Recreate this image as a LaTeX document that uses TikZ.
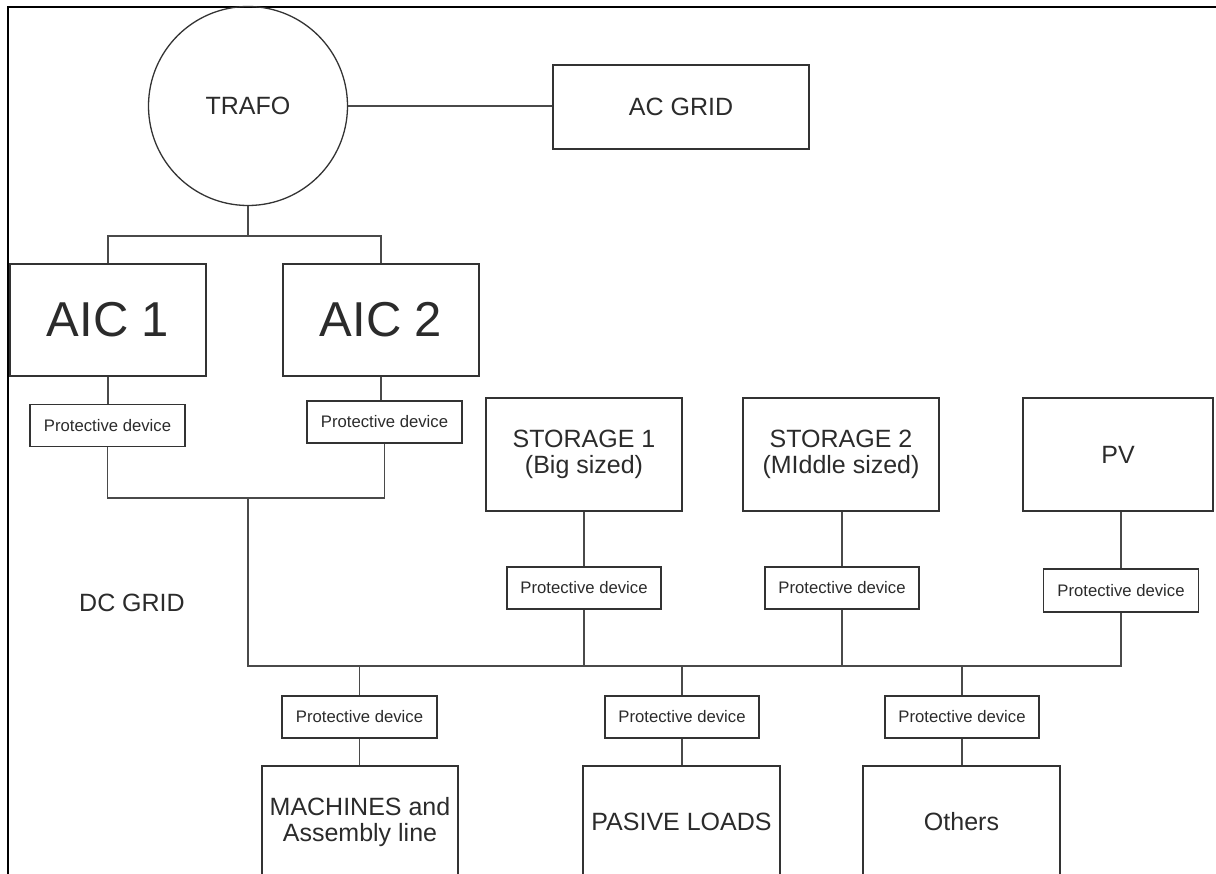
\documentclass[tikz,border=0pt]{standalone}
\usepackage{fontspec}
\setmainfont{Liberation Sans}
\usetikzlibrary{calc}
\definecolor{edge}{HTML}{333333}
\definecolor{wirec}{HTML}{4A4A4A}
\definecolor{ink}{HTML}{2B2B2B}
\begin{document}
\begin{tikzpicture}[x=1pt,y=-1pt,
  every node/.style={text=ink, inner sep=2pt},
  blk/.style={draw=edge, line width=1.3pt, align=center,
    minimum width=#1, font=\fontsize{25}{25.5}\selectfont},
  blk/.default=196pt,
  big/.style={font=\fontsize{49}{50}\selectfont},
  prot/.style={draw=edge, line width=1.3pt, minimum width=155pt,
    minimum height=42pt, font=\fontsize{16.7}{18}\selectfont},
  wire/.style={draw=wirec, line width=1.5pt}]
\useasboundingbox (0,0) rectangle (1216,874);
\clip (0,0) rectangle (1216,874);

% frame
\draw[black, line width=2pt] (8,880) -- (8,7) -- (1220,7);

% AC side
\node[draw=edge, line width=1.3pt, circle, minimum size=199pt,
      font=\fontsize{25}{24}\selectfont] (trafo) at (248,106) {TRAFO};
\node[blk=256pt, minimum height=84pt] (acgrid) at (681,107) {AC GRID};

% converters
\node[blk, big, minimum height=112pt] (aic1) at (108,320) {AIC 1};
\node[blk, big, minimum height=112pt] (aic2) at (381,320) {AIC 2};
\node[prot] (pd1) at (107.5,425.5) {Protective device};
\node[prot] (pd2) at (384.5,422) {Protective device};

% sources and storage
\node[blk, minimum height=113pt] (st1) at (584,454.5) {STORAGE 1\\(Big sized)};
\node[blk, minimum height=113pt] (st2) at (841,454.5) {STORAGE 2\\(MIddle sized)};
\node[blk=190pt, minimum height=113pt] (pv) at (1118,454.5) {PV};
\node[prot, minimum width=154pt] (pds1) at (584,588) {Protective device};
\node[prot, minimum width=154pt] (pds2) at (842,588) {Protective device};
\node[prot, minimum height=43pt] (pdpv) at (1121,590.5) {Protective device};

% loads
\node[prot] (pdm) at (359.5,717) {Protective device};
\node[prot, minimum width=154pt] (pdp) at (682,717) {Protective device};
\node[prot, minimum width=154pt] (pdo) at (962,717) {Protective device};
\node[blk, minimum height=112pt] (mach) at (360,822) {MACHINES and\\Assembly line};
\node[blk=197pt, minimum height=112pt] (pas) at (681.5,822) {PASIVE LOADS};
\node[blk=197pt, minimum height=112pt] (oth) at (961.5,822) {Others};

\node[font=\fontsize{25}{24}\selectfont] (dc) at (132,603) {DC GRID};

% AC connections
\coordinate (acbar) at (248,236);
\draw[wire] (trafo.south) -- (acbar);
\draw[wire] (aic1.north) |- (acbar) -| (aic2.north);
\draw[wire] (trafo.east) -- (trafo.east -| acgrid.west);
\draw[wire] (aic1.south) -- (aic1.south |- pd1.north);
\draw[wire] (aic2.south) -- (aic2.south |- pd2.north);

% DC bus
\coordinate (dcjoin) at (248,498);
\coordinate (busL) at (248,666);
\draw[wire] (pd1.south) |- (dcjoin) -| (pd2.south);
\draw[wire] (dcjoin) -- (busL) -| (pdpv.south);
\draw[wire] (pdpv.north) -- (pdpv.north |- pv.south);
\draw[wire] (st1.south) -- (st1.south |- pds1.north);
\draw[wire] (pds1.south) -- (pds1.south |- busL);
\draw[wire] (st2.south -| pds2.north) -- (pds2.north);
\draw[wire] (pds2.south) -- (pds2.south |- busL);

% load feeders
\draw[wire] (pdm.north |- busL) -- (pdm.north);
\draw[wire] (pdm.south) -- (pdm.south |- mach.north);
\draw[wire] (pdp.north |- busL) -- (pdp.north);
\draw[wire] (pdp.south) -- (pdp.south |- pas.north);
\draw[wire] (pdo.north |- busL) -- (pdo.north);
\draw[wire] (pdo.south) -- (pdo.south |- oth.north);
\end{tikzpicture}
\end{document}
